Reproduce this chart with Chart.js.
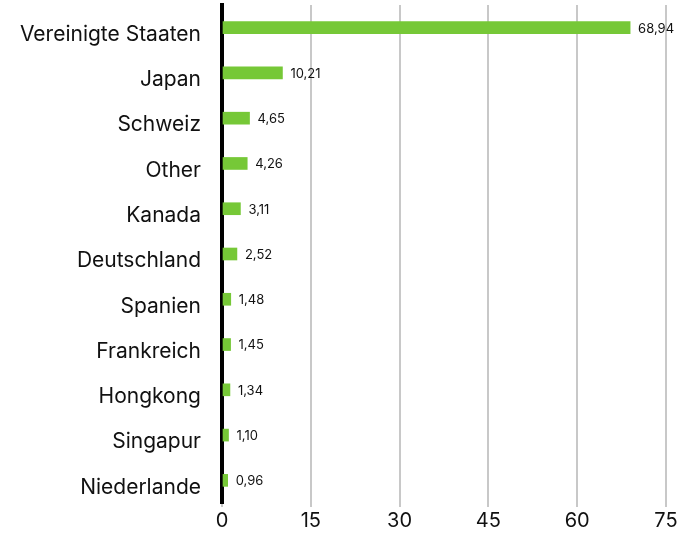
<!DOCTYPE html>
<html>
<head>
<meta charset="utf-8">
<script src="https://cdn.jsdelivr.net/npm/chart.js@4"></script>
<style>
  html, body { margin: 0; padding: 0; background: #fff; }
  #wrap { width: 692px; height: 533px; }
</style>
</head>
<body>
<div id="wrap"><canvas id="myGraph"></canvas></div>
<script>
const countries = ['Vereinigte Staaten', 'Japan', 'Schweiz', 'Other', 'Kanada',
                   'Deutschland', 'Spanien', 'Frankreich', 'Hongkong', 'Singapur', 'Niederlande'];
const weights = [68.94, 10.21, 4.65, 4.26, 3.11, 2.52, 1.48, 1.45, 1.34, 1.10, 0.96];
const xTicks = [0, 15, 30, 45, 60, 75];

const fmt = v => v.toFixed(2).replace('.', ',');

// value text to the right of each bar
const valueLabels = {
  id: 'valueLabels',
  afterDatasetsDraw(chart) {
    const ctx = chart.ctx;
    const meta = chart.getDatasetMeta(0);
    ctx.save();
    ctx.font = '13px Inter';
    ctx.fillStyle = '#111';
    ctx.textBaseline = 'middle';
    meta.data.forEach((bar, i) => {
      ctx.fillText(fmt(weights[i]), bar.x + 8, bar.y + 1);
    });
    ctx.restore();
  }
};

const graph = document.getElementById('myGraph');

const myGraph = new Chart(graph, {
  type: 'bar',
  data: {
    labels: countries,
    datasets: [{
      data: weights,
      backgroundColor: '#76c837',
      barThickness: 12
    }]
  },
  options: {
    indexAxis: 'y',
    responsive: true,
    maintainAspectRatio: false,
    animation: false,
    layout: { padding: { top: 5, right: 26, bottom: 0, left: 0 } },
    plugins: {
      legend: { display: false },
      tooltip: { enabled: false }
    },
    scales: {
      x: {
        min: 0,
        max: 75,
        afterBuildTicks: scale => { scale.ticks = xTicks.map(v => ({ value: v })); },
        afterFit: scale => { scale.paddingLeft = 0; scale.paddingRight = 0; scale.height = 30; },
        grid: { color: '#c8c8c8', lineWidth: 2, drawTicks: true, tickLength: 4 },
        border: { display: false },
        ticks: { color: '#111', font: { family: 'Inter', size: 20 }, padding: 2 }
      },
      y: {
        afterFit: scale => { scale.width = 222; scale.paddingTop = 0; scale.paddingBottom = 0; },
        grid: { display: false },
        border: { color: '#000', width: 4 },
        ticks: { color: '#111', font: { family: 'Inter', size: 21 }, padding: 13, labelOffset: 7 }
      }
    }
  },
  plugins: [valueLabels]
});
</script>
</body>
</html>
